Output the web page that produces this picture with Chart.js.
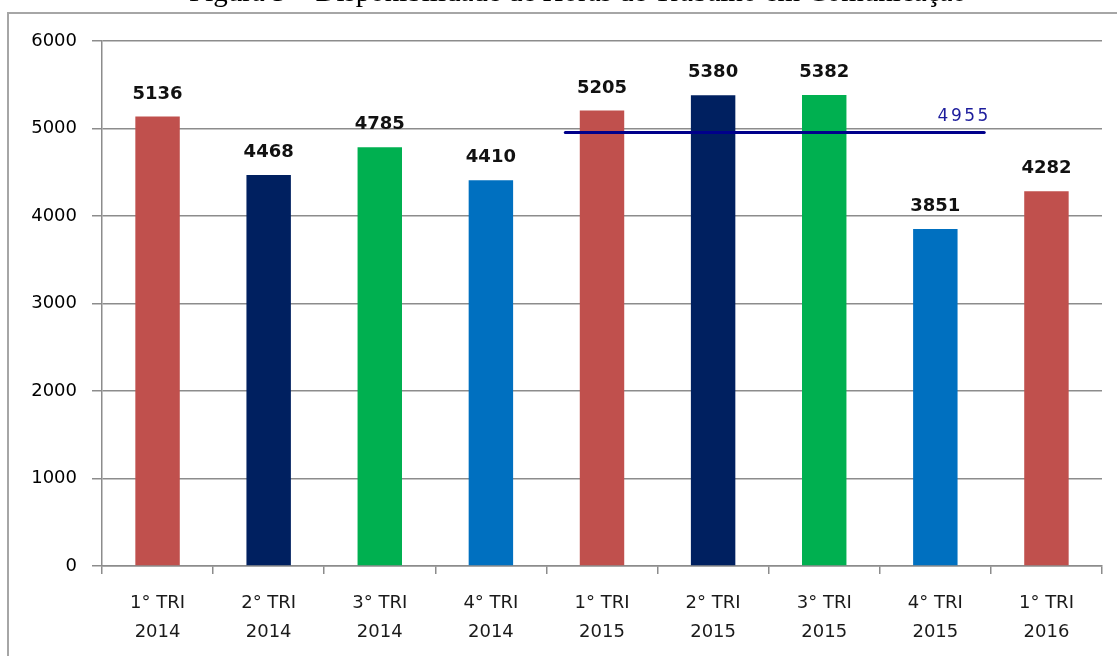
<!DOCTYPE html>
<html>
<head>
<meta charset="utf-8">
<script src="https://cdn.jsdelivr.net/npm/chart.js@4/dist/chart.umd.min.js"></script>
<style>
    body { margin: 0; background: #fff; }
    #wrap { position: relative; width: 1117px; height: 656px; overflow: hidden; }
    #frame {
        position: absolute; left: 7px; top: 12px; right: -10px; bottom: -10px;
        border-left: 2px solid #a6a6a6; border-top: 2px solid #a6a6a6;
    }
    #chart { position: absolute; left: 0; top: 0; }
</style>
</head>
<body>
<div id="wrap">
    <div id="frame"></div>
    <canvas id="chart" width="1117" height="656"></canvas>
</div>
<script>
const titleText = "Figura 3 – Disponibilidade de Horas de Trabalho em Comunicação";

const quarters = [
    ["1° TRI", "2014"], ["2° TRI", "2014"], ["3° TRI", "2014"], ["4° TRI", "2014"],
    ["1° TRI", "2015"], ["2° TRI", "2015"], ["3° TRI", "2015"], ["4° TRI", "2015"],
    ["1° TRI", "2016"]
];
const hours = [5136, 4468, 4785, 4410, 5205, 5380, 5382, 3851, 4282];
const barColors = [
    "#c0504d", "#002060", "#00b050", "#0070c0",
    "#c0504d", "#002060", "#00b050", "#0070c0",
    "#c0504d"
];
const yTicks = [0, 1000, 2000, 3000, 4000, 5000, 6000];

// média de 2015, linha sobre os trimestres de 2015 (posição em índice de categoria)
const avg2015 = 4955;
const avgSpan = [3.67, 7.44];

const labelsPlugin = {
    id: "labels",
    afterDatasetsDraw(chart) {
        const ctx = chart.ctx;
        ctx.save();

        // valores em cima das barras
        const bars = chart.getDatasetMeta(0).data;
        ctx.font = "bold 18px 'DejaVu Sans'";
        ctx.fillStyle = "#111";
        ctx.textAlign = "center";
        ctx.textBaseline = "alphabetic";
        bars.forEach((bar, i) => {
            ctx.fillText(String(hours[i]), bar.x, bar.y - 18);
        });

        // rótulo da média
        const pts = chart.getDatasetMeta(1).data;
        const end = pts[pts.length - 1];
        ctx.font = "17px 'DejaVu Sans'";
        ctx.letterSpacing = "2.5px";
        ctx.fillStyle = "#1c1c9c";
        ctx.fillText(String(avg2015), end.x - 20, end.y - 11);
        ctx.letterSpacing = "0px";

        ctx.restore();
    }
};

const titlePlugin = {
    id: "cutTitle",
    beforeDraw(chart) {
        const ctx = chart.ctx;
        ctx.save();
        ctx.font = "29px 'Liberation Serif'";
        ctx.fillStyle = "#000";
        ctx.textAlign = "left";
        ctx.textBaseline = "alphabetic";
        ctx.fillText(titleText, 189, 1);
        ctx.restore();
    }
};

const ctx = document.getElementById("chart").getContext("2d");
const myChart = new Chart(ctx, {
    type: "bar",
    data: {
        labels: quarters,
        datasets: [
            {
                label: "Horas",
                data: hours,
                backgroundColor: barColors,
                borderWidth: 0,
                grouped: false,
                barPercentage: 0.4,
                categoryPercentage: 1.0,
                order: 2
            },
            {
                type: "line",
                label: "Média 2015",
                parsing: false,
                normalized: true,
                data: [
                    { x: avgSpan[0], y: avg2015 },
                    { x: avgSpan[1], y: avg2015 }
                ],
                borderColor: "#00008b",
                borderWidth: 3,
                pointRadius: 0,
                borderCapStyle: "round",
                order: 1
            }
        ]
    },
    options: {
        responsive: false,
        animation: false,
        layout: {
            padding: { left: 0, top: 41, right: 15, bottom: 0 }
        },
        plugins: {
            legend: { display: false },
            tooltip: { enabled: false },
            title: { display: false }
        },
        scales: {
            x: {
                offset: true,
                grid: {
                    offset: true,
                    drawOnChartArea: false,
                    drawTicks: true,
                    tickLength: 8,
                    color: "#8c8c8c",
                    lineWidth: 1.5
                },
                border: { color: "#8c8c8c", width: 1.5 },
                ticks: {
                    color: "#1a1a1a",
                    font: { family: "DejaVu Sans", size: 18, lineHeight: 1.65 },
                    padding: 14,
                    maxRotation: 0,
                    autoSkip: false
                },
                afterFit(scale) { scale.height = 90; }
            },
            y: {
                min: yTicks[0],
                max: yTicks[yTicks.length - 1],
                afterBuildTicks(scale) {
                    scale.ticks = yTicks.map(v => ({ value: v }));
                },
                grid: {
                    color: "#8c8c8c",
                    lineWidth: 1.5,
                    tickLength: 10
                },
                border: { color: "#8c8c8c", width: 1.5 },
                ticks: {
                    color: "#000",
                    font: { family: "DejaVu Sans", size: 18 },
                    padding: 15,
                    callback: v => String(v)
                },
                afterFit(scale) { scale.width = 102; }
            }
        }
    },
    plugins: [titlePlugin, labelsPlugin]
});
</script>
</body>
</html>
